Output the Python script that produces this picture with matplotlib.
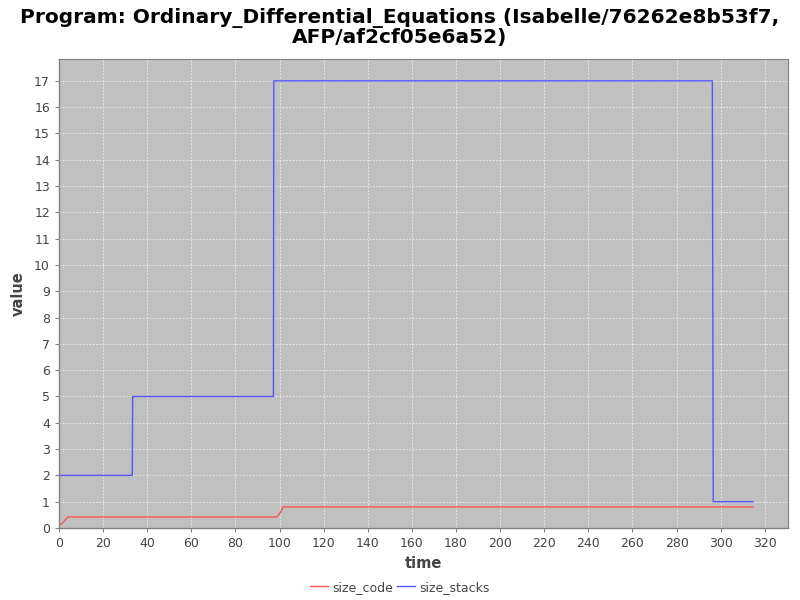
import matplotlib
matplotlib.use("Agg")
import matplotlib.pyplot as plt
from matplotlib.ticker import MultipleLocator

# data
time_code = [0, 1, 2, 3, 4, 98.8, 99.6, 100.6, 101.5, 314.6]
size_code = [0.12, 0.15, 0.22, 0.33, 0.42, 0.42, 0.5, 0.62, 0.8, 0.8]
time_stacks = [0, 33.2, 33.4, 97.2, 97.4, 296.2, 296.6, 314.6]
size_stacks = [2, 2, 5, 5, 17, 17, 1, 1]

title = "Program: Ordinary_Differential_Equations (Isabelle/76262e8b53f7,\nAFP/af2cf05e6a52)"

fig = plt.figure(figsize=(8, 6), dpi=100)
ax = fig.add_axes([59/800, 72/600, (788-59)/800, (528-58.5)/600])
ax.set_facecolor("#c0c0c0")

ax.plot(time_code, size_code, color="#ff5555", lw=1, label="size_code")
ax.plot(time_stacks, size_stacks, color="#5555ff", lw=1, label="size_stacks")

ax.set_xlim(0, 330.5)
ax.set_ylim(0, 17.85)
ax.xaxis.set_major_locator(MultipleLocator(20))
ax.yaxis.set_major_locator(MultipleLocator(1))
ax.grid(True, color="#f0f0f0", linestyle=(0, (2, 2)), linewidth=0.6)
ax.set_axisbelow(True)

for s in ["top", "right"]:
    ax.spines[s].set_color("#808080")
    ax.spines[s].set_linewidth(0.8)
for s in ["left", "bottom"]:
    ax.spines[s].set_color("#808080")
    ax.spines[s].set_linewidth(1)
ax.tick_params(axis="both", colors="#808080", labelcolor="#444444", labelsize=9, length=3, width=0.8)

ax.set_xlabel("time", fontsize=10.5, fontweight="bold", color="#444444", labelpad=4)
ax.set_ylabel("value", fontsize=10.5, fontweight="bold", color="#444444", labelpad=6)

fig.suptitle(title, fontsize=14.5, fontweight="bold", color="#000000", y=0.986, linespacing=1.0)

fig.legend(loc="lower center", bbox_to_anchor=(0.5, -0.008), ncol=2, frameon=False,
           fontsize=9, handlelength=1.4, handletextpad=0.4, columnspacing=0.3,
           labelcolor="#444444")

fig.savefig("out.png", dpi=100)
